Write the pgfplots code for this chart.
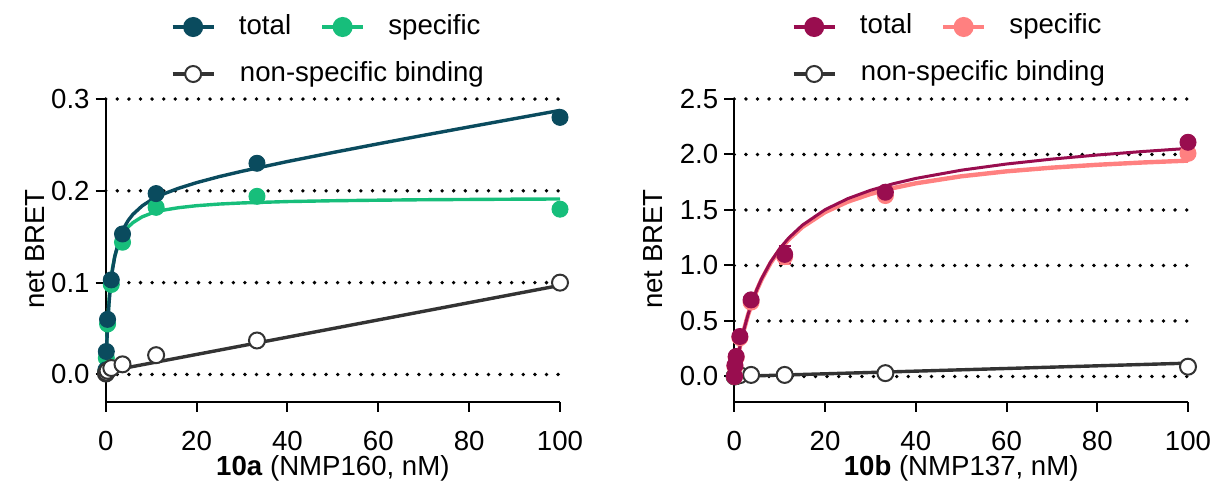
\documentclass[border=0pt]{standalone}
\usepackage{pgfplots}
\pgfplotsset{compat=1.18}
\usepackage{fontspec}
\setmainfont{Liberation Sans}

\definecolor{teal1}{HTML}{0A4B5E}
\definecolor{green1}{HTML}{17BE7B}
\definecolor{mag1}{HTML}{990D4F}
\definecolor{salm1}{HTML}{FF8080}
\definecolor{ns1}{HTML}{333333}

\newcommand{\fs}{\fontsize{13.8}{16}\selectfont}

\pgfplotsset{
  common/.style={
    scale only axis, clip=false,
    xmin=0, xmax=100, xtick={0,20,40,60,80,100},
    axis lines*=left,
    axis line style={-, line width=1pt, black},
    tick style={line width=1pt, black},
    tick align=outside, major tick length=5pt,
    ymajorgrids,
    grid style={line width=1.9pt, dash pattern=on 0pt off 5.8pt, line cap=round, black},
    /pgf/number format/assume math mode=true,
    xticklabel style={font=\fs, anchor=base, inner sep=0pt, yshift=-19pt},
    yticklabel style={font=\fs, anchor=east, inner sep=0pt, xshift=-2.85pt,
      /pgf/number format/.cd, fixed, fixed zerofill, precision=1},
    xlabel style={font=\fs, at={(axis description cs:0.5,0)}, anchor=base, inner sep=0pt, yshift=-37pt},
    legend columns=2,
    legend cell align=left,
    legend style={draw=none, fill=none, inner sep=0pt, outer sep=0pt, font=\fs,
      nodes={inner sep=0pt, text height=10pt, text depth=3pt},
      row sep=10.5pt,
      /tikz/every odd column/.append style={column sep=11.65pt},
      /tikz/every even column/.append style={column sep=14.5pt}},
    legend image code/.code={\draw[mark repeat=2, mark phase=2, #1] plot coordinates {(0pt,0pt) (10.25pt,0pt) (20.5pt,0pt)};},
  },
  dotm/.style={only marks, mark=*, mark size=4pt, mark options={solid, fill=#1, draw=#1, line width=0.5pt}},
  openm/.style={only marks, mark=*, mark size=4pt, mark options={solid, fill=white, draw=ns1, line width=1pt}},
}

\begin{document}
\begin{tikzpicture}
% ---------------- left panel ----------------
\begin{axis}[common, at={(0pt,0pt)}, anchor=south west,
  width=227.15pt, height=151.5pt,
  ymin=-0.03, ymax=0.3, ytick={0,0.1,0.2,0.3},
  ylabel={net BRET},
  every axis y label/.style={at={(axis description cs:-0.1336,0.505)}, rotate=90, anchor=south, inner sep=0pt, font=\fs},
  xlabel={\textbf{10a} (NMP160, nM)},
  legend style={at={(axis description cs:0.143,1)}, anchor=north west, yshift=42.5pt}]
\addlegendimage{teal1, line width=2pt, mark=*, mark size=4pt, mark options={solid, fill=teal1, draw=teal1}}
\addlegendentry{total}
\addlegendimage{green1, line width=2pt, mark=*, mark size=4pt, mark options={solid, fill=green1, draw=green1}}
\addlegendentry{specific}
\addlegendimage{ns1, line width=2pt, mark=*, mark size=4pt, mark options={solid, fill=white, draw=ns1, line width=1pt}}
\addlegendentry{\makebox[0pt][l]{non-specific binding}}
% specific fit
\addplot[forget plot, green1, line width=1.7pt] coordinates {
(0,0) (0.1,0.0176) (0.25,0.0386) (0.5,0.0643) (0.75,0.0827) (1,0.0965) (1.5,0.1158)
(2,0.1287) (3,0.1448) (4,0.1544) (5,0.1608) (6,0.1654) (8,0.1716) (10,0.1755)
(13,0.1792) (16,0.1816) (20,0.1838) (25,0.1856) (30,0.1868) (40,0.1883) (50,0.1892)
(60,0.1898) (70,0.1903) (80,0.1906) (90,0.1909) (100,0.1911)};
\addplot[forget plot, dotm=green1] coordinates {
(0.046,0.003) (0.137,0.018) (0.41,0.055) (1.23,0.098) (3.7,0.144) (11.1,0.182) (33.3,0.194) (100,0.180)};
% total fit
\addplot[forget plot, teal1, line width=1.7pt] coordinates {
(0,0) (0.1,0.0157) (0.25,0.0352) (0.5,0.0601) (0.75,0.0788) (1,0.0932) (1.5,0.1141)
(2,0.1286) (3,0.1476) (4,0.1597) (5,0.1681) (6,0.1744) (8,0.1835) (10,0.1900)
(13,0.1971) (16,0.2027) (20,0.2089) (25,0.2155) (30,0.2213) (40,0.2319) (50,0.2417)
(60,0.2512) (70,0.2605) (80,0.2696) (90,0.2786) (100,0.2876)};
\addplot[forget plot, dotm=teal1] coordinates {
(0.046,0.005) (0.137,0.025) (0.41,0.060) (1.23,0.103) (3.7,0.153) (11.1,0.197) (33.3,0.230) (100,0.280)};
% non-specific
\addplot[forget plot, ns1, line width=1.7pt] coordinates {(0,0.003) (100,0.097)};
\addplot[forget plot, openm] coordinates {
(0.046,0.001) (0.137,0.002) (0.41,0.004) (1.23,0.007) (3.7,0.011) (11.1,0.021) (33.3,0.037) (100,0.100)};
\end{axis}

% ---------------- right panel ----------------
\begin{axis}[common, at={(314.3pt,0pt)}, anchor=south west,
  width=226.85pt, height=151.5pt,
  ymin=-0.23, ymax=2.5, ytick={0,0.5,1,1.5,2,2.5},
  ylabel={net BRET},
  every axis y label/.style={at={(axis description cs:-0.1572,0.505)}, rotate=90, anchor=south, inner sep=0pt, font=\fs},
  xlabel={\textbf{10b} (NMP137, nM)},
  legend style={at={(axis description cs:0.1265,1)}, anchor=north west, yshift=42.5pt}]
\addlegendimage{mag1, line width=2pt, mark=*, mark size=4pt, mark options={solid, fill=mag1, draw=mag1}}
\addlegendentry{total}
\addlegendimage{salm1, line width=2pt, mark=*, mark size=4pt, mark options={solid, fill=salm1, draw=salm1}}
\addlegendentry{specific}
\addlegendimage{ns1, line width=2pt, mark=*, mark size=4pt, mark options={solid, fill=white, draw=ns1, line width=1pt}}
\addlegendentry{\makebox[0pt][l]{non-specific binding}}
% non-specific
\addplot[forget plot, ns1, line width=1.7pt] coordinates {(0,0.0) (100,0.12)};
\addplot[forget plot, openm] coordinates {
(0.046,0.0) (0.137,0.002) (0.41,0.004) (1.23,0.012) (3.7,0.014) (11.1,0.014) (33.3,0.030) (100,0.088)};
% specific fit
\addplot[forget plot, salm1, line width=2.2pt] coordinates {
(0,0) (0.25,0.0603) (0.5,0.1172) (1,0.2221) (1.5,0.3165) (2,0.4019) (3,0.5504)
(4,0.6752) (5,0.7815) (6,0.8731) (8,1.0230) (10,1.1405) (12,1.2351) (15,1.3468)
(20,1.4807) (25,1.5746) (30,1.6442) (35,1.6977) (40,1.7402) (50,1.8034) (60,1.8482)
(70,1.8815) (80,1.9073) (90,1.9279) (100,1.9447)};
\addplot[forget plot, dotm=salm1, error bars/.cd, y dir=both, y explicit,
  error bar style={salm1, line width=1pt}, error mark options={rotate=90, salm1, mark size=3pt, line width=1pt}]
  coordinates {
(0.046,0.0) (0.137,0.09) (0.41,0.17) (1.23,0.35) (3.7,0.67) (11.1,1.08) +- (0,0.07) (33.3,1.63) (100,2.01)};
% total fit
\addplot[forget plot, mag1, line width=1.5pt] coordinates {
(0,0) (0.25,0.0606) (0.5,0.1178) (1,0.2232) (1.5,0.3182) (2,0.4041) (3,0.5537)
(4,0.6796) (5,0.7870) (6,0.8797) (8,1.0318) (10,1.1515) (12,1.2483) (15,1.3633)
(20,1.5027) (25,1.6021) (30,1.6772) (35,1.7362) (40,1.7842) (50,1.8584) (60,1.9142)
(70,1.9585) (80,1.9953) (90,2.0269) (100,2.0547)};
\addplot[forget plot, dotm=mag1, error bars/.cd, y dir=both, y explicit,
  error bar style={mag1, line width=1pt}, error mark options={rotate=90, mag1, mark size=3pt, line width=1pt}]
  coordinates {
(0.046,0.0) (0.137,0.10) (0.41,0.18) (1.23,0.36) (3.7,0.69) (11.1,1.10) +- (0,0.08) (33.3,1.66) (100,2.11)};
\end{axis}

\pgfresetboundingbox
\path[use as bounding box] (-52.85pt,-39.5pt) rectangle (555.15pt,201pt);
\end{tikzpicture}
\end{document}
